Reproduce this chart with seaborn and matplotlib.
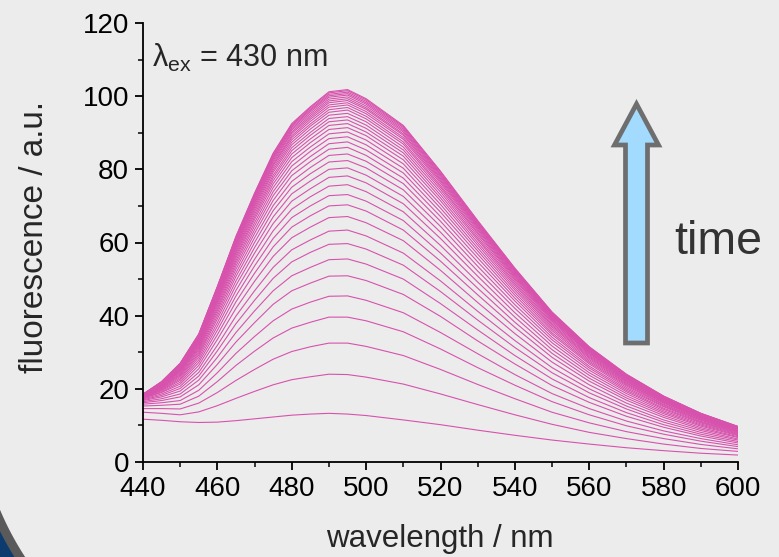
import numpy as np
import pandas as pd
import matplotlib
matplotlib.use("Agg")
import matplotlib.pyplot as plt
import seaborn as sns
from matplotlib.patches import Polygon
from matplotlib.ticker import MultipleLocator

# ---------------- data ----------------
wavelength_nm = [440, 445, 450, 455, 460, 465, 470, 475, 480, 485, 490, 495, 500,
                 510, 520, 530, 540, 550, 560, 570, 580, 590, 600]

s01 = [11.7, 11.4, 11.0, 10.8, 10.9, 11.3, 11.8, 12.3, 12.8, 13.1, 13.3, 13.1, 12.7, 11.5, 10.2, 8.7, 7.3, 6.0, 4.9, 3.9, 3.1, 2.4, 1.9]
s02 = [13.6, 13.3, 12.9, 13.7, 15.4, 17.4, 19.3, 21.1, 22.5, 23.3, 24.0, 23.9, 23.2, 21.3, 18.6, 15.7, 12.9, 10.3, 8.1, 6.4, 4.9, 3.7, 2.9]
s03 = [14.6, 14.6, 14.5, 16.1, 19.0, 22.3, 25.3, 28.1, 30.2, 31.5, 32.5, 32.5, 31.6, 29.1, 25.3, 21.2, 17.3, 13.6, 10.7, 8.3, 6.4, 4.8, 3.6]
s04 = [15.3, 15.5, 15.8, 18.0, 22.0, 26.4, 30.3, 33.9, 36.6, 38.2, 39.6, 39.6, 38.6, 35.6, 30.9, 25.8, 21.0, 16.5, 12.9, 9.9, 7.6, 5.7, 4.2]
s05 = [15.8, 16.2, 16.8, 19.6, 24.4, 29.7, 34.3, 38.6, 41.8, 43.7, 45.3, 45.4, 44.2, 40.8, 35.4, 29.6, 23.9, 18.7, 14.6, 11.2, 8.5, 6.4, 4.7]
s06 = [16.2, 16.8, 17.8, 21.1, 26.7, 32.8, 38.1, 43.1, 46.8, 48.9, 50.8, 50.9, 49.6, 45.8, 39.8, 33.1, 26.8, 20.9, 16.3, 12.5, 9.5, 7.1, 5.2]
s07 = [16.5, 17.3, 18.6, 22.4, 28.6, 35.4, 41.3, 46.8, 50.9, 53.2, 55.3, 55.5, 54.1, 50.0, 43.3, 36.1, 29.1, 22.7, 17.6, 13.5, 10.2, 7.6, 5.6]
s08 = [16.8, 17.8, 19.4, 23.5, 30.4, 37.8, 44.2, 50.2, 54.7, 57.3, 59.5, 59.7, 58.2, 53.8, 46.6, 38.8, 31.3, 24.4, 18.9, 14.5, 10.9, 8.1, 6.0]
s09 = [17.0, 18.2, 20.1, 24.5, 31.9, 39.9, 46.8, 53.2, 58.0, 60.7, 63.1, 63.4, 61.8, 57.1, 49.5, 41.2, 33.2, 25.8, 20.0, 15.3, 11.5, 8.6, 6.3]
s10 = [17.2, 18.6, 20.7, 25.5, 33.5, 42.0, 49.4, 56.2, 61.3, 64.2, 66.8, 67.1, 65.4, 60.5, 52.4, 43.6, 35.1, 27.3, 21.1, 16.1, 12.2, 9.0, 6.7]
s11 = [17.4, 19.0, 21.3, 26.4, 34.8, 43.8, 51.6, 58.8, 64.2, 67.3, 70.0, 70.3, 68.6, 63.4, 54.9, 45.7, 36.8, 28.6, 22.1, 16.9, 12.7, 9.4, 6.9]
s12 = [17.5, 19.2, 21.8, 27.2, 36.0, 45.4, 53.6, 61.1, 66.8, 70.0, 72.8, 73.1, 71.3, 66.0, 57.1, 47.5, 38.2, 29.7, 22.9, 17.5, 13.2, 9.8, 7.2]
s13 = [17.6, 19.5, 22.3, 27.9, 37.1, 46.9, 55.4, 63.2, 69.1, 72.5, 75.4, 75.8, 73.9, 68.4, 59.2, 49.2, 39.6, 30.7, 23.7, 18.1, 13.6, 10.1, 7.4]
s14 = [17.7, 19.7, 22.7, 28.6, 38.1, 48.3, 57.1, 65.2, 71.3, 74.7, 77.8, 78.2, 76.3, 70.6, 61.1, 50.8, 40.8, 31.7, 24.4, 18.7, 14.0, 10.4, 7.6]
s15 = [17.8, 19.9, 23.1, 29.2, 39.1, 49.5, 58.6, 67.0, 73.3, 76.8, 80.0, 80.4, 78.4, 72.6, 62.8, 52.2, 42.0, 32.6, 25.1, 19.2, 14.4, 10.7, 7.8]
s16 = [17.9, 20.1, 23.5, 29.7, 39.9, 50.7, 60.0, 68.7, 75.1, 78.8, 82.0, 82.4, 80.4, 74.4, 64.4, 53.5, 43.0, 33.4, 25.7, 19.6, 14.7, 10.9, 8.0]
s17 = [18.0, 20.3, 23.8, 30.2, 40.7, 51.7, 61.3, 70.1, 76.7, 80.5, 83.8, 84.2, 82.2, 76.1, 65.8, 54.7, 44.0, 34.1, 26.2, 20.0, 15.1, 11.1, 8.2]
s18 = [18.0, 20.4, 24.1, 30.7, 41.4, 52.7, 62.5, 71.5, 78.3, 82.1, 85.5, 86.0, 83.8, 77.6, 67.1, 55.8, 44.8, 34.8, 26.8, 20.4, 15.3, 11.4, 8.3]
s19 = [18.1, 20.6, 24.4, 31.1, 42.0, 53.6, 63.5, 72.8, 79.6, 83.5, 87.0, 87.5, 85.3, 79.0, 68.3, 56.8, 45.6, 35.3, 27.2, 20.8, 15.6, 11.5, 8.4]
s20 = [18.1, 20.7, 24.7, 31.5, 42.6, 54.4, 64.5, 73.9, 80.9, 84.9, 88.4, 88.9, 86.7, 80.3, 69.4, 57.7, 46.3, 35.9, 27.6, 21.1, 15.8, 11.7, 8.6]
s21 = [18.2, 20.9, 24.9, 31.8, 43.2, 55.1, 65.4, 75.0, 82.1, 86.1, 89.7, 90.2, 88.0, 81.5, 70.4, 58.5, 47.0, 36.4, 28.0, 21.4, 16.1, 11.9, 8.7]
s22 = [18.2, 21.0, 25.1, 32.2, 43.7, 55.8, 66.3, 76.0, 83.2, 87.3, 90.9, 91.4, 89.2, 82.6, 71.4, 59.3, 47.6, 36.9, 28.4, 21.6, 16.3, 12.0, 8.8]
s23 = [18.2, 21.0, 25.3, 32.5, 44.1, 56.4, 67.0, 76.9, 84.2, 88.3, 92.0, 92.5, 90.2, 83.6, 72.2, 60.0, 48.2, 37.3, 28.7, 21.9, 16.4, 12.2, 8.9]
s24 = [18.3, 21.2, 25.5, 32.7, 44.5, 57.0, 67.7, 77.7, 85.1, 89.3, 93.0, 93.5, 91.2, 84.5, 73.0, 60.7, 48.7, 37.7, 29.0, 22.1, 16.6, 12.3, 9.0]
s25 = [18.3, 21.3, 25.7, 33.0, 44.9, 57.5, 68.4, 78.4, 85.9, 90.1, 93.9, 94.4, 92.1, 85.3, 73.8, 61.2, 49.2, 38.1, 29.3, 22.3, 16.8, 12.4, 9.1]
s26 = [18.3, 21.3, 25.8, 33.2, 45.3, 58.0, 69.0, 79.2, 86.7, 91.0, 94.8, 95.3, 93.0, 86.1, 74.5, 61.8, 49.7, 38.5, 29.6, 22.5, 16.9, 12.5, 9.1]
s27 = [18.3, 21.4, 26.0, 33.5, 45.6, 58.5, 69.6, 79.8, 87.4, 91.8, 95.6, 96.2, 93.8, 86.9, 75.1, 62.4, 50.1, 38.8, 29.8, 22.7, 17.1, 12.6, 9.2]
s28 = [18.4, 21.5, 26.1, 33.7, 45.9, 58.9, 70.1, 80.4, 88.1, 92.4, 96.3, 96.9, 94.5, 87.5, 75.6, 62.8, 50.5, 39.1, 30.0, 22.9, 17.2, 12.7, 9.3]
s29 = [18.4, 21.5, 26.2, 33.8, 46.2, 59.3, 70.6, 81.0, 88.7, 93.1, 97.0, 97.6, 95.2, 88.2, 76.2, 63.3, 50.8, 39.3, 30.2, 23.0, 17.3, 12.8, 9.3]
s30 = [18.4, 21.6, 26.3, 34.0, 46.5, 59.6, 71.0, 81.4, 89.2, 93.7, 97.6, 98.2, 95.8, 88.7, 76.7, 63.7, 51.1, 39.6, 30.4, 23.2, 17.4, 12.9, 9.4]
s31 = [18.4, 21.6, 26.5, 34.2, 46.7, 60.0, 71.4, 81.9, 89.8, 94.2, 98.2, 98.8, 96.4, 89.3, 77.1, 64.1, 51.4, 39.8, 30.6, 23.3, 17.5, 12.9, 9.4]
s32 = [18.4, 21.7, 26.6, 34.3, 47.0, 60.3, 71.8, 82.4, 90.2, 94.7, 98.7, 99.3, 96.8, 89.7, 77.5, 64.4, 51.7, 40.0, 30.7, 23.4, 17.6, 13.0, 9.5]
s33 = [18.5, 21.7, 26.6, 34.5, 47.2, 60.6, 72.1, 82.8, 90.7, 95.2, 99.2, 99.8, 97.3, 90.2, 77.9, 64.7, 52.0, 40.2, 30.9, 23.5, 17.7, 13.1, 9.5]
s34 = [18.5, 21.8, 26.7, 34.6, 47.4, 60.8, 72.5, 83.2, 91.1, 95.7, 99.7, 100.3, 97.8, 90.6, 78.3, 65.0, 52.2, 40.4, 31.0, 23.7, 17.7, 13.1, 9.6]
s35 = [18.5, 21.8, 26.8, 34.7, 47.5, 61.1, 72.7, 83.5, 91.5, 96.1, 100.1, 100.7, 98.2, 91.0, 78.6, 65.3, 52.4, 40.6, 31.2, 23.8, 17.8, 13.2, 9.6]
s36 = [18.5, 21.9, 26.9, 34.8, 47.7, 61.3, 73.0, 83.8, 91.9, 96.4, 100.5, 101.1, 98.6, 91.4, 78.9, 65.5, 52.6, 40.7, 31.3, 23.8, 17.9, 13.2, 9.6]
s37 = [18.5, 21.9, 26.9, 34.9, 47.9, 61.5, 73.3, 84.2, 92.2, 96.8, 100.9, 101.5, 99.0, 91.7, 79.3, 65.8, 52.8, 40.9, 31.4, 23.9, 18.0, 13.3, 9.7]
s38 = [18.5, 22.0, 27.0, 35.0, 48.0, 61.7, 73.5, 84.4, 92.5, 97.1, 101.2, 101.8, 99.3, 92.0, 79.5, 66.0, 53.0, 41.0, 31.5, 24.0, 18.0, 13.3, 9.7]

spectra = [s01, s02, s03, s04, s05, s06, s07, s08, s09, s10, s11, s12, s13, s14, s15, s16, s17, s18, s19,
           s20, s21, s22, s23, s24, s25, s26, s27, s28, s29, s30, s31, s32, s33, s34, s35, s36, s37, s38]

x_ticks = [440, 460, 480, 500, 520, 540, 560, 580, 600]
y_ticks = [0, 20, 40, 60, 80, 100, 120]

# ---------------- long-form table ----------------
rows = []
for i, spec in enumerate(spectra):
    for wl, val in zip(wavelength_nm, spec):
        rows.append({"trace": i, "wavelength": wl, "fluorescence": val})
df = pd.DataFrame(rows)

# ---------------- style ----------------
sns.set_theme(style="ticks")
plt.rcParams["font.family"] = ["Liberation Sans", "DejaVu Sans"]
plt.rcParams["mathtext.fontset"] = "custom"
plt.rcParams["mathtext.rm"] = "Liberation Sans"
plt.rcParams["mathtext.it"] = "Liberation Sans"

BG = "#ececec"
W, H = 779, 557
fig = plt.figure(figsize=(W / 100, H / 100), dpi=100, facecolor=BG)
ax = fig.add_axes([143 / W, 95 / H, 595 / W, 439 / H])
ax.set_facecolor(BG)

sns.lineplot(data=df, x="wavelength", y="fluorescence", units="trace", estimator=None,
             color="#d752ad", lw=0.8, legend=False, ax=ax)

ax.set_xlim(440, 600)
ax.set_ylim(0, 120)
ax.set_xticks(x_ticks)
ax.set_yticks(y_ticks)
ax.xaxis.set_minor_locator(MultipleLocator(10))
ax.yaxis.set_minor_locator(MultipleLocator(10))
ax.tick_params(which="major", direction="out", length=6, width=1.3, labelsize=20, colors="black", pad=4)
ax.tick_params(which="minor", direction="out", length=3.5, width=1.3)
for side in ["top", "right"]:
    ax.spines[side].set_visible(False)
for side in ["left", "bottom"]:
    ax.spines[side].set_linewidth(1.3)
    ax.spines[side].set_color("black")
ax.set_xlabel("")
ax.set_ylabel("")

def fx(px):
    return px / W

def fy(py):
    return 1 - py / H

fig.text(fx(440), fy(539), "wavelength / nm", ha="center", va="center", fontsize=22.5)
fig.text(fx(35), fy(237), "fluorescence / a.u.", ha="center", va="center", rotation=90, fontsize=24)

ax.text(442.3, 108, r"λ$_{\mathregular{ex}}$ = 430 nm", fontsize=22, ha="left", va="baseline")

# time arrow (decoration)
arrow_px = [(625.5, 343), (625.5, 145), (614.5, 145), (636.5, 104), (658.5, 145), (647.5, 145), (647.5, 343)]
fig.add_artist(Polygon([(fx(x), fy(y)) for x, y in arrow_px], closed=True, transform=fig.transFigure,
                       facecolor="#a3dbff", edgecolor="#6e6e6e", lw=3.4, joinstyle="miter"))
fig.text(fx(674), fy(254), "time", ha="left", va="baseline", fontsize=33.5, color="#333333")

# slide corner decoration (bottom-left)
cx, cy = 276.4, 393.1
th = np.linspace(np.pi / 2, np.pi, 200)
for r, col in [(300, "#5a5a5a"), (309, "#0c3c6e")]:
    pts = [(cx + r * np.cos(t), cy + r * np.sin(t)) for t in th]
    pts += [(-200, cy), (-200, 900), (cx, 900)]
    fig.add_artist(Polygon([(fx(x), fy(y)) for x, y in pts], closed=True, transform=fig.transFigure,
                           facecolor=col, edgecolor="none", zorder=0.5))

fig.savefig("out.png", dpi=100, facecolor=BG)
